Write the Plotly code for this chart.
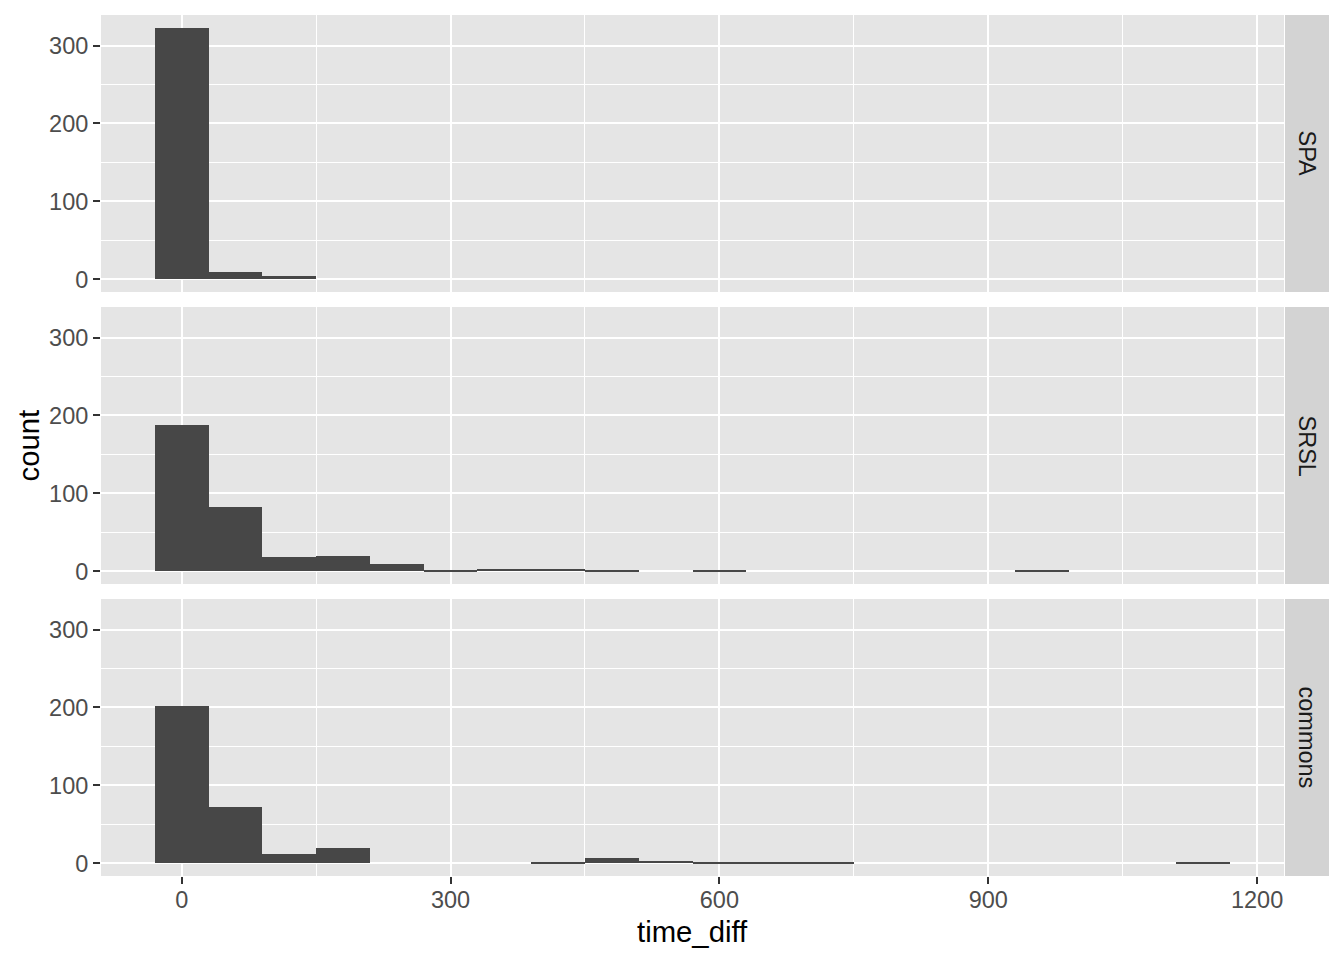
import plotly.graph_objects as go
from plotly.subplots import make_subplots

# ---- data ----
bin_centers = [0, 60, 120, 180, 240, 300, 360, 420, 480, 540,
               600, 660, 720, 780, 840, 900, 960, 1020, 1080, 1140]
spa_counts = [323, 9, 4, 0, 0, 0, 0, 0, 0, 0,
              0, 0, 0, 0, 0, 0, 0, 0, 0, 0]
srsl_counts = [188, 82, 19, 20, 10, 1, 3, 3, 1, 0,
               1, 0, 0, 0, 0, 0, 1, 0, 0, 0]
commons_counts = [202, 72, 12, 20, 0, 0, 0, 2, 7, 3,
                  2, 1, 2, 0, 0, 0, 0, 0, 0, 1]
facet_labels = ["SPA", "SRSL", "commons"]
x_ticks = [0, 300, 600, 900, 1200]
y_ticks = [0, 100, 200, 300]
bin_width = 60

series = [spa_counts, srsl_counts, commons_counts]

# ---- layout geometry (pixels, in page coordinates) ----
OFF = 8  # default body margin of the html page
W, H = 1344 - OFF, 960 - OFF
L, R, T, B = 101, 1284, 15, 876
pw, ph = R - L, B - T
panels_px = [(15, 292), (307, 584), (599, 876)]
domains = [[(B - b) / ph, (B - t) / ph] for (t, b) in panels_px]

FONT = "Liberation Sans, Arial, Helvetica, sans-serif"
PANEL_BG = "#E5E5E5"
STRIP_BG = "#D3D3D3"
BAR = "#474747"

fig = make_subplots(rows=3, cols=1, shared_xaxes=True, vertical_spacing=0.0)

for i, counts in enumerate(series):
    fig.add_trace(go.Bar(x=bin_centers, y=counts, width=bin_width,
                         marker=dict(color=BAR, line=dict(width=0)),
                         showlegend=False, hoverinfo="x+y"),
                  row=i + 1, col=1)

ymax = max(max(s) for s in series)
yr = [-0.05 * ymax, 1.05 * ymax]
xr = [-30 - 0.05 * 1200, 1170 + 0.05 * 1200]

for i in range(3):
    ax = "" if i == 0 else str(i + 1)
    fig.layout["yaxis" + ax].update(
        domain=domains[i], range=yr, tickvals=y_ticks,
        showgrid=True, gridcolor="white", gridwidth=2.1,
        minor=dict(dtick=50, tick0=0, showgrid=True, gridcolor="white", gridwidth=1),
        ticks="outside", ticklen=7, tickwidth=2, tickcolor="#333333",
        tickfont=dict(family=FONT, size=23.5, color="#4D4D4D"),
        zeroline=False, showline=False, fixedrange=True,
    )
    fig.layout["xaxis" + ax].update(
        range=xr, tickvals=x_ticks,
        showgrid=True, gridcolor="white", gridwidth=2.1,
        minor=dict(dtick=150, tick0=0, showgrid=True, gridcolor="white", gridwidth=1),
        zeroline=False, showline=False, fixedrange=True,
        showticklabels=(i == 2),
        ticks="outside" if i == 2 else "", ticklen=7, tickwidth=2, tickcolor="#333333",
        tickfont=dict(family=FONT, size=23.5, color="#4D4D4D"),
        ticklabelstandoff=-4,
    )

shapes = []
annotations = []
sx0 = (1285 - L) / pw
sx1 = (1329 - L) / pw
for i, (t, b) in enumerate(panels_px):
    y0 = (B - b) / ph
    y1 = (B - t) / ph
    shapes.append(dict(type="rect", xref="paper", yref="paper",
                       x0=sx0, x1=sx1, y0=y0, y1=y1,
                       fillcolor=STRIP_BG, line=dict(width=0), layer="below"))
    annotations.append(dict(text=facet_labels[i], xref="paper", yref="paper",
                            x=(sx0 + sx1) / 2, y=(y0 + y1) / 2,
                            xanchor="center", yanchor="middle", textangle=90,
                            showarrow=False,
                            font=dict(family=FONT, size=23.5, color="#1A1A1A")))

annotations.append(dict(text="count", xref="paper", yref="paper",
                        x=(28 - L) / pw, y=0.5, xanchor="center", yanchor="middle",
                        textangle=-90, showarrow=False,
                        font=dict(family=FONT, size=29.3, color="black")))
annotations.append(dict(text="time_diff", xref="paper", yref="paper",
                        x=0.5, y=-(932 - B) / ph, xanchor="center", yanchor="middle",
                        showarrow=False,
                        font=dict(family=FONT, size=29.3, color="black")))

fig.update_layout(
    width=W, height=H,
    margin=dict(l=L - OFF, r=(1344 - R), t=T - OFF, b=(960 - B), pad=0),
    paper_bgcolor="white", plot_bgcolor=PANEL_BG,
    bargap=0, barmode="overlay",
    shapes=shapes, annotations=annotations,
    font=dict(family=FONT),
)

fig.write_html("out.html", config={"displayModeBar": False})
